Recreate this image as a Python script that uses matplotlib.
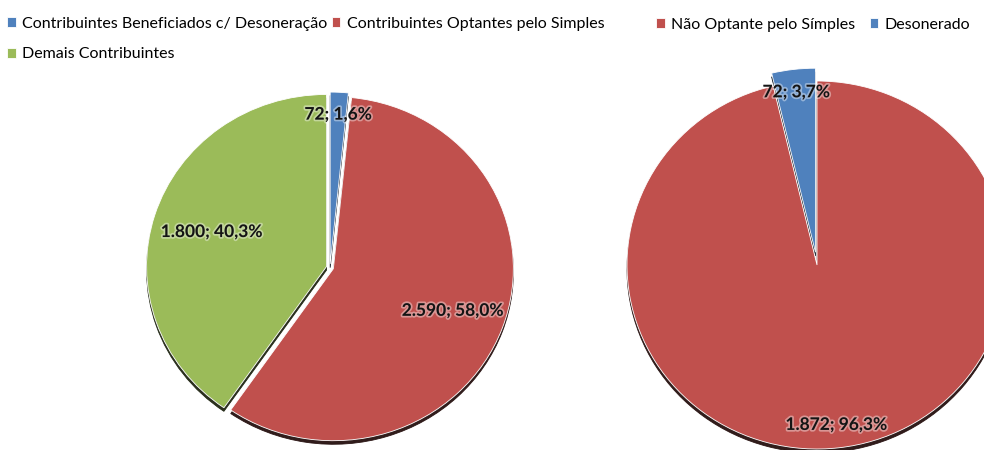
import matplotlib
matplotlib.use("Agg")
import matplotlib.pyplot as plt
import matplotlib.patheffects as pe
import numpy as np

# --- data ---
left_labels = ["Contribuintes Beneficiados c/ Desoneração",
               "Contribuintes Optantes pelo Simples",
               "Demais Contribuintes"]
left_values = [72, 2590, 1800]
left_colors = ["#4F81BD", "#C0504D", "#9BBB59"]

right_labels = ["Desonerado", "Não Optante pelo Símples"]
right_values = [72, 1872]
right_colors = ["#4F81BD", "#C0504D"]

W, H = 984, 450
plt.rcParams['font.family'] = ['Lato', 'DejaVu Sans']


def fmt(v, total):
    pct = f"{100 * v / total:.1f}".replace(".", ",")
    return f"{v:,}".replace(",", ".") + "; " + pct + "%"


def pie_axes(fig, cx, cy, sx, sy, span=1.3):
    # cx, cy in pixels from the top-left corner, sx/sy = pixels per radius
    ax = fig.add_axes([(cx - span * sx) / W, (H - cy - span * sy) / H,
                       2 * span * sx / W, 2 * span * sy / H])
    ax.axis("off")
    return ax


def draw_pie(ax, values, colors, explode, counterclock, label_r):
    total = sum(values)
    wedges, _ = ax.pie(values, colors=colors, explode=explode, startangle=90,
                       counterclock=counterclock,
                       shadow={'ox': 0.0, 'oy': -0.015, 'shade': 0.8, 'alpha': 0.95},
                       wedgeprops=dict(edgecolor="white", linewidth=0.6))
    for w, v, r in zip(wedges, values, label_r):
        mid = np.deg2rad((w.theta1 + w.theta2) / 2)
        ax.text(r * np.cos(mid), r * np.sin(mid), fmt(v, total),
                ha="center", va="center", fontsize=12.5, fontweight="bold",
                color="#141414",
                path_effects=[pe.withStroke(linewidth=2.5, foreground="white", alpha=0.4)])
    ax.set_aspect("auto")
    ax.set_xlim(-1.3, 1.3)
    ax.set_ylim(-1.3, 1.3)
    return wedges


fig = plt.figure(figsize=(W / 100, H / 100), dpi=100)

ax1 = pie_axes(fig, 330, 267.5, 180, 172)
w1 = draw_pie(ax1, left_values, left_colors, [0.02, 0.02, 0.02], False, [0.89, 0.726, 0.69])

ax2 = pie_axes(fig, 817, 265, 190, 184)
w2 = draw_pie(ax2, right_values, right_colors, [0.07, 0.0], True, [0.945, 0.875])

# legends
h = [w1[0], w1[2], w1[1]]
lab = [left_labels[0], left_labels[2], left_labels[1]]
fig.legend(h, lab, ncol=2, loc="upper left", bbox_to_anchor=(-0.004, 0.988),
           frameon=False, fontsize=11.5, handlelength=0.55, handleheight=0.55,
           handletextpad=0.4, columnspacing=0.25, labelspacing=1.05,
           borderaxespad=0.3)
fig.legend([w2[1], w2[0]], [right_labels[1], right_labels[0]], ncol=2,
           loc="upper left", bbox_to_anchor=(0.652, 0.993), frameon=False,
           fontsize=11.5, handlelength=0.55, handleheight=0.55, handletextpad=0.4,
           columnspacing=0.9)

fig.savefig("out.png", dpi=100)
